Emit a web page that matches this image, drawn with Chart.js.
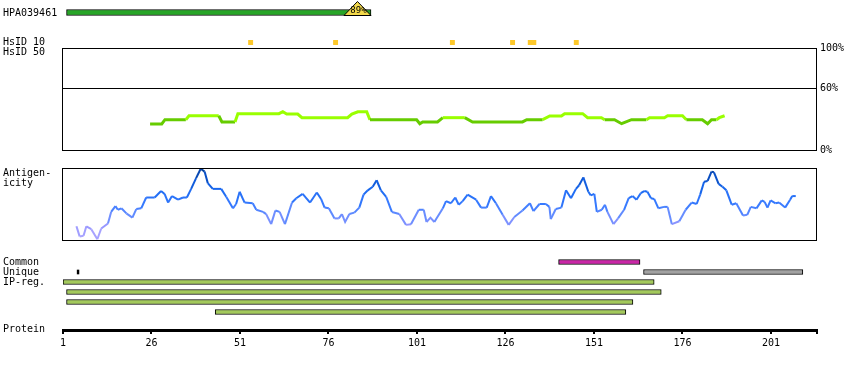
<!DOCTYPE html>
<html>
<head>
<meta charset="utf-8">
<script src="https://cdn.jsdelivr.net/npm/chart.js@4.4.0/dist/chart.umd.min.js"></script>
<style>
  body { margin: 0; background: #fff; }
  #wrap { position: relative; width: 850px; height: 370px; overflow: hidden; }
  #wrap canvas { position: absolute; left: 0; top: 0; }
  .lbl { position: absolute; left: 3px; font: 10px "DejaVu Sans Mono", monospace; line-height: 10px; color: #000; white-space: nowrap; }
</style>
</head>
<body>
<div id="wrap">
  <canvas id="antigenChart" width="850" height="370"></canvas>
  <canvas id="hsidChart" width="850" height="370"></canvas>
  <canvas id="identityChart" width="850" height="370"></canvas>
  <canvas id="antigenicityChart" width="850" height="370"></canvas>
  <canvas id="regionChart" width="850" height="370"></canvas>
  <canvas id="proteinChart" width="850" height="370"></canvas>

  <div class="lbl" style="top:8px">HPA039461</div>
  <div class="lbl" style="top:37px">HsID 10</div>
  <div class="lbl" style="top:47px">HsID 50</div>
  <div class="lbl" style="top:168px">Antigen-</div>
  <div class="lbl" style="top:178px">icity</div>
  <div class="lbl" style="top:257px">Common</div>
  <div class="lbl" style="top:267px">Unique</div>
  <div class="lbl" style="top:277px">IP-reg.</div>
  <div class="lbl" style="top:324px">Protein</div>
</div>

<script>
// protein / antigen
const proteinLength = 213;
const antigenName = 'HPA039461';
const antigenRange = [2, 88];
const antigenIdentity = 89;

// HsID 10 hits (residues)
const hsid10Pos = [54, 78, 111, 128, 133, 134, 146];

// HsID 50 identity (%)
const identityPos = [25.6, 28.9, 29.8, 35.7, 36.6, 45.0, 45.9, 49.6, 50.4, 62.0,
  63.1, 64.2, 67.3, 68.5, 81.4, 82.6, 84.3, 86.8, 87.7, 100.9,
  101.8, 102.6, 106.8, 108.3, 114.5, 116.7, 130.8, 132.0, 136.5, 138.5,
  141.8, 142.7, 147.8, 149.2, 153.1, 154.0, 156.8, 158.8, 161.6, 165.8,
  166.7, 170.9, 171.8, 176.0, 177.1, 181.6, 183.1, 184.2, 185.6, 186.4, 187.9];
const identityVal = [25.5, 25.5, 29.7, 29.7, 33.6, 33.6, 27.5, 27.5, 35.6, 35.6,
  37.5, 35.3, 35.3, 31.7, 31.7, 35.3, 37.5, 37.5, 29.7, 29.7,
  25.8, 27.5, 27.5, 31.7, 31.7, 27.5, 27.5, 29.7, 29.7, 33.3,
  33.3, 35.6, 35.6, 31.7, 31.7, 29.7, 29.7, 25.8, 29.7, 29.7,
  31.7, 31.7, 33.6, 33.6, 29.7, 29.7, 25.8, 29.7, 29.7, 31.7, 33.6];
const identityTicks = [0, 60, 100];

// antigenicity profile
const antigenicityPos = [4.8, 5.7, 6.8, 7.6, 9.0, 10.7, 11.8, 13.7, 14.6, 15.8,
  16.5, 17.5, 18.9, 20.6, 21.7, 23.1, 24.5, 26.9, 28.7, 29.7,
  30.7, 31.8, 33.5, 34.9, 36.0, 37.2, 38.6, 39.9, 41.0, 41.9,
  43.3, 45.7, 47.1, 49.0, 49.9, 50.9, 52.3, 54.6, 55.6, 57.5,
  58.4, 59.8, 61.0, 62.2, 63.7, 65.7, 66.9, 68.7, 70.8, 72.7,
  73.9, 74.9, 76.1, 77.7, 78.9, 79.8, 80.7, 81.9, 83.3, 84.7,
  85.9, 87.1, 88.5, 89.6, 90.8, 92.3, 93.9, 96.0, 97.9, 99.3,
  101.5, 102.9, 103.7, 104.8, 105.9, 108.3, 109.2, 110.6, 111.8, 112.8,
  113.9, 115.3, 117.7, 119.1, 120.7, 121.9, 123.3, 125.2, 126.9, 128.5,
  130.8, 132.9, 133.9, 135.6, 137.4, 138.4, 138.8, 140.2, 141.8, 143.1,
  144.5, 145.9, 146.8, 148.0, 149.4, 150.1, 151.1, 151.8, 153.2, 154.1,
  154.8, 156.5, 157.8, 159.5, 160.8, 161.9, 163.0, 164.2, 165.2, 166.1,
  167.1, 168.0, 169.2, 170.8, 171.8, 173.0, 175.1, 176.9, 178.6, 180.0,
  181.0, 182.1, 183.1, 184.2, 184.9, 186.2, 187.3, 188.4, 189.9, 191.2,
  193.1, 194.3, 195.3, 196.9, 198.4, 199.2, 200.0, 200.9, 202.3, 203.3,
  205.0, 206.4, 207.0, 208.0];
const antigenicityVal = [19, 5, 6, 19, 15, 1, 16, 23, 39, 47,
  42, 44, 37, 31, 43, 44, 59, 59, 68, 64,
  52, 61, 56, 59, 59, 71, 86, 99, 95, 79,
  71, 71, 60, 44, 50, 67, 52, 51, 42, 39,
  36, 22, 41, 39, 22, 52, 58, 64, 52, 66,
  57, 45, 44, 30, 30, 36, 25, 36, 38, 45,
  63, 69, 74, 83, 69, 60, 39, 36, 21, 22,
  42, 42, 25, 31, 25, 44, 54, 51, 59, 49,
  54, 63, 56, 45, 45, 61, 51, 35, 21, 32,
  41, 51, 40, 50, 50, 46, 29, 43, 45, 69,
  58, 71, 76, 87, 67, 62, 64, 39, 42, 49,
  39, 22, 30, 42, 58, 61, 56, 65, 68, 67,
  58, 57, 44, 46, 46, 22, 26, 42, 52, 50,
  63, 81, 82, 95, 94, 78, 74, 69, 49, 51,
  34, 35, 46, 44, 55, 53, 45, 55, 51, 52,
  45, 56, 61, 61];

// region rows
const regionRows = ['Common', 'Unique', 'IP-reg. 1', 'IP-reg. 2', 'IP-reg. 3', 'IP-reg. 4'];
const regionStart = [141, 165, 1, 2, 2, 44];
const regionEnd = [164, 210, 168, 170, 162, 160];
const uniqueMark = [5, 5.5];

const proteinTicks = [1, 26, 51, 76, 101, 126, 151, 176, 201];

Chart.defaults.font.family = '"DejaVu Sans Mono", monospace';
Chart.defaults.font.size = 10;
Chart.defaults.color = '#000';
Chart.defaults.animation = false;
Chart.defaults.responsive = false;
Chart.defaults.plugins.legend.display = false;
Chart.defaults.plugins.tooltip.enabled = false;

function residueAxis(extra) {
  return Object.assign({ type: 'linear', min: 1, max: proteinLength + 1, display: false }, extra || {});
}

// thin black frame around a plot area
const boxOutline = {
  id: 'boxOutline',
  afterDraw(chart) {
    const a = chart.chartArea, c = chart.ctx;
    c.save();
    c.strokeStyle = '#000';
    c.lineWidth = 1;
    c.strokeRect(a.left - 0.5, a.top + 0.5, a.right - a.left, a.bottom - a.top);
    c.restore();
  }
};

function mix(a, b, t) {
  return a.map((v, i) => Math.round(v + (b[i] - v) * t));
}
function antiColor(v) {
  const stops = [
    [0, [178, 170, 255]], [20, [150, 150, 255]], [35, [100, 140, 255]],
    [50, [55, 122, 255]], [70, [25, 105, 240]], [85, [10, 82, 205]], [100, [5, 62, 150]]
  ];
  for (let i = 1; i < stops.length; i++) {
    if (v <= stops[i][0]) {
      const t = (v - stops[i - 1][0]) / (stops[i][0] - stops[i - 1][0]);
      const c = mix(stops[i - 1][1], stops[i][1], Math.max(0, t));
      return `rgb(${c[0]},${c[1]},${c[2]})`;
    }
  }
  return 'rgb(5,62,150)';
}

// antigen bar with identity triangle
const identityFlag = {
  id: 'identityFlag',
  afterDatasetsDraw(chart) {
    const bar = chart.getDatasetMeta(0).data[0];
    const c = chart.ctx;
    const xr = bar.x, xl = xr - 27, yb = bar.y + 3, yt = yb - 14;
    c.save();
    c.beginPath();
    c.moveTo(xl, yb);
    c.lineTo((xl + xr) / 2, yt);
    c.lineTo(xr, yb);
    c.closePath();
    c.fillStyle = '#f3d94a';
    c.fill();
    c.strokeStyle = '#000';
    c.lineWidth = 1;
    c.stroke();
    c.fillStyle = '#000';
    c.font = '9px "DejaVu Sans Mono", monospace';
    c.textAlign = 'center';
    c.textBaseline = 'middle';
    c.fillText(antigenIdentity + '%', (xl + xr) / 2 + 1, yb - 5);
    c.restore();
  }
};

new Chart(document.getElementById('antigenChart'), {
  type: 'bar',
  data: {
    labels: [antigenName],
    datasets: [{
      data: [antigenRange],
      backgroundColor: '#27a527',
      borderColor: '#000',
      borderWidth: 1,
      borderSkipped: false,
      barThickness: 6
    }]
  },
  options: {
    indexAxis: 'y',
    layout: { padding: { left: 63, right: 33, top: 8, bottom: 353 } },
    scales: { x: residueAxis(), y: { display: false } }
  },
  plugins: [identityFlag]
});

new Chart(document.getElementById('hsidChart'), {
  type: 'scatter',
  data: {
    datasets: [{
      data: hsid10Pos.map(x => ({ x: x, y: 0.5 })),
      pointStyle: 'rect',
      pointRadius: 3.5,
      backgroundColor: '#fdc82a',
      borderWidth: 0,
      clip: false
    }]
  },
  options: {
    layout: { padding: { left: 63, right: 33, top: 38, bottom: 323 } },
    scales: { x: residueAxis(), y: { display: false, min: 0, max: 1 } }
  }
});

new Chart(document.getElementById('identityChart'), {
  type: 'line',
  data: {
    datasets: [{
      data: identityPos.map((x, i) => ({ x: x, y: identityVal[i] })),
      borderWidth: 3,
      pointRadius: 0,
      tension: 0,
      segment: {
        borderColor: ctx => (ctx.p0.parsed.y + ctx.p1.parsed.y) / 2 >= 30.7 ? '#99ff00' : '#66cc00'
      }
    }]
  },
  options: {
    layout: { padding: { left: 63, right: 0, top: 48, bottom: 220 } },
    scales: {
      x: residueAxis(),
      y: {
        position: 'right',
        min: 0,
        max: 100,
        afterBuildTicks: s => { s.ticks = identityTicks.map(v => ({ value: v })); },
        afterFit: s => { s.width = 33; },
        ticks: { padding: 3, callback: v => v + '%' },
        grid: { drawTicks: false, color: c => c.tick && c.tick.value === 60 ? '#000' : 'rgba(0,0,0,0)' },
        border: { display: false }
      }
    }
  },
  plugins: [boxOutline]
});

new Chart(document.getElementById('antigenicityChart'), {
  type: 'line',
  data: {
    datasets: [{
      data: antigenicityPos.map((x, i) => ({ x: x, y: antigenicityVal[i] })),
      borderWidth: 2,
      pointRadius: 0,
      tension: 0,
      segment: {
        borderColor: ctx => antiColor((ctx.p0.parsed.y + ctx.p1.parsed.y) / 2)
      }
    }]
  },
  options: {
    layout: { padding: { left: 63, right: 33, top: 168, bottom: 130 } },
    scales: { x: residueAxis(), y: { display: false, min: 0, max: 100 } }
  },
  plugins: [boxOutline]
});

new Chart(document.getElementById('regionChart'), {
  type: 'bar',
  data: {
    labels: regionRows,
    datasets: [{
      data: regionStart.map((s, i) => [s, regionEnd[i]]),
      backgroundColor: ['#c926a6', '#a2a2a2', '#a3c95c', '#a3c95c', '#a3c95c', '#a3c95c'],
      borderColor: '#000',
      borderWidth: 1,
      borderSkipped: false,
      barThickness: 5,
      grouped: false
    }, {
      data: regionRows.map((r, i) => i === 1 ? uniqueMark : null),
      backgroundColor: '#000',
      borderWidth: 0,
      barThickness: 4,
      grouped: false
    }]
  },
  options: {
    indexAxis: 'y',
    layout: { padding: { left: 63, right: 33, top: 257, bottom: 53 } },
    scales: { x: residueAxis(), y: { display: false } }
  }
});

new Chart(document.getElementById('proteinChart'), {
  type: 'scatter',
  data: { datasets: [{ data: [] }] },
  options: {
    layout: { padding: { left: 63, right: 33, top: 320, bottom: 10 } },
    scales: {
      x: residueAxis({
        display: true,
        position: 'bottom',
        afterBuildTicks: s => { s.ticks = proteinTicks.concat([proteinLength + 1]).map(v => ({ value: v })); },
        afterFit: s => { s.height = 30; },
        ticks: { autoSkip: false, maxRotation: 0, padding: 3, callback: v => v > proteinLength ? '' : String(v) },
        grid: { drawOnChartArea: false, drawTicks: true, tickLength: 4, color: '#000', lineWidth: 2 },
        border: { display: true, color: '#000', width: 3 }
      }),
      y: { display: false }
    }
  }
});
</script>
</body>
</html>
